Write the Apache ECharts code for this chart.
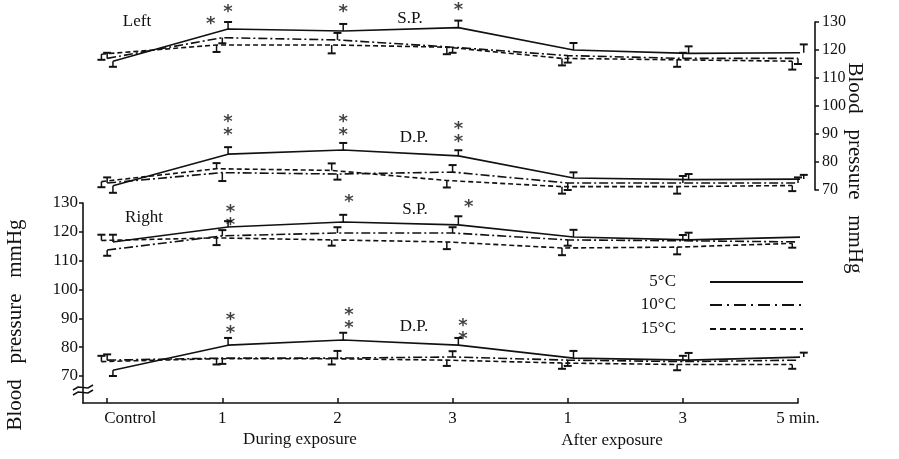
<!DOCTYPE html>
<html>
<head>
<meta charset="utf-8">
<script src="https://cdn.jsdelivr.net/npm/echarts@6/dist/echarts.min.js"></script>
<style>
  html, body { margin: 0; padding: 0; background: #fff; }
  #chart { width: 899px; height: 459px; }
</style>
</head>
<body>
<div id="chart"></div>
<script>
// categories on the time axis
const xLabels = ['Control', '1', '2', '3', '1', '3', '5 min.']
const xIndex = [0, 1, 2, 3, 4, 5, 6]
const yTicks = [70, 80, 90, 100, 110, 120, 130]

// Left side (top panel), mmHg
const leftSP5 = [116, 127.5, 126.8, 128, 120, 118.8, 119]
const leftSP10 = [117, 124.4, 123.6, 121, 118, 117, 117]
const leftSP15 = [118.5, 121.8, 121.8, 121, 117, 116.5, 116]
const leftDP5 = [71.5, 82.8, 84.3, 82.2, 74.3, 73.7, 73.9]
const leftDP10 = [72.5, 76.2, 75.7, 76.4, 72.5, 72.5, 72.5]
const leftDP15 = [73, 77.6, 77, 73.4, 71.2, 71.2, 71.6]

// Right side (bottom panel), mmHg
const rightSP5 = [116.5, 121.7, 123.4, 122.4, 118.2, 117.2, 118.2]
const rightSP10 = [113.7, 118.6, 119.6, 119.6, 117.2, 116.9, 116.5]
const rightSP15 = [117, 117.9, 117.2, 116.5, 114.4, 114.7, 116]
const rightDP5 = [72, 80.7, 82.5, 80.7, 76.2, 75.5, 76.6]
const rightDP10 = [75.5, 76.2, 76.2, 76.6, 75.5, 75, 75.5]
const rightDP15 = [75, 76, 76, 75.5, 74.5, 74, 74]

// error bars (signed: + drawn upward, - drawn downward)
const leftSP5Err = [-2, 2.5, 2.5, 2.5, 2.5, 2.5, 3]
const leftSP10Err = [2, -2, 2.5, -2, -2.5, 2, -2]
const leftSP15Err = [-2, -2.5, -3, -2.5, -2.5, -2.5, -3]
const leftDP5Err = [-2.5, 2.5, 2.5, 2, 2, 2, 1.5]
const leftDP10Err = [2, -3, -2, 2.5, -2.5, 2.5, 2]
const leftDP15Err = [-2, 2, 2.5, -2.5, -2.5, -2.5, -2]
const rightSP5Err = [2.5, 2, 2.5, 3, 2.5, 2.5, 0]
const rightSP10Err = [-2, 2, 2, 2, -2, 2, 0]
const rightSP15Err = [2, -2.5, -2, -2.5, -2.5, -2.5, -1.5]
const rightDP5Err = [-2, 2.5, 2.5, 2.5, 2.5, 2.5, 1.5]
const rightDP10Err = [2, -2, 2.5, 2, -2, 2, 0]
const rightDP15Err = [2, -2, -2, -2, -2, -2, -1.5]

// significance marks: [x, y, text]
const leftStars = [[0.9, 129, '*'], [1.05, 133.5, '*'], [2.05, 133.5, '*'], [3.05, 134, '*'],
  [1.05, 92, '*\n*'], [2.05, 92, '*\n*'], [3.05, 89.5, '*\n*']]
const rightStars = [[1.07, 124.5, '*\n*'], [2.1, 130.3, '*'], [3.14, 128.6, '*'],
  [1.07, 87, '*\n*'], [2.1, 88.7, '*\n*'], [3.09, 84.9, '*\n*']]

const INK = '#111'
const FONT = "'Liberation Serif', 'DejaVu Serif', serif"
const styles = {
  c5: { type: 'solid', dx: 0.05 },
  c10: { type: [9, 3, 2, 3], dx: 0 },
  c15: { type: [5, 3], dx: -0.05 }
}

const errBar = (params, api) => {
  const x = api.value(0), y = api.value(1), e = api.value(2)
  if (!e) return
  const p0 = api.coord([x, y])
  const p1 = api.coord([x, y + e])
  return {
    type: 'group',
    children: [
      { type: 'line', shape: { x1: p0[0], y1: p0[1], x2: p1[0], y2: p1[1] }, style: { stroke: INK, lineWidth: 1.5 } },
      { type: 'line', shape: { x1: p1[0] - 4, y1: p1[1], x2: p1[0] + 4, y2: p1[1] }, style: { stroke: INK, lineWidth: 2 } }
    ]
  }
}

const makeSeries = (values, errs, st, gi) => {
  const s = styles[st]
  return [
    {
      type: 'line',
      xAxisIndex: gi, yAxisIndex: gi,
      data: values.map((v, i) => [xIndex[i] + s.dx, v]),
      showSymbol: false,
      lineStyle: { color: INK, width: 1.6, type: s.type },
      silent: true
    },
    {
      type: 'custom',
      xAxisIndex: gi, yAxisIndex: gi,
      data: values.map((v, i) => [xIndex[i] + s.dx, v, errs[i]]),
      renderItem: errBar,
      encode: { x: 0, y: 1 },
      silent: true
    }
  ]
}

const starSeries = (data, gi) => ({
  type: 'scatter',
  xAxisIndex: gi, yAxisIndex: gi,
  data: data,
  clip: false,
  symbolSize: 1,
  itemStyle: { color: 'rgba(0,0,0,0)' },
  label: {
    show: true,
    position: 'inside',
    formatter: p => p.value[2],
    fontFamily: 'DejaVu Sans',
    fontWeight: 'bold',
    fontSize: 18,
    lineHeight: 13,
    color: INK
  },
  silent: true
})

const txt = (text, x, y, size, extra) => ({
  type: 'text', x: x, y: y, silent: true,
  style: Object.assign({ text: text, fill: INK, font: size + 'px ' + FONT, align: 'center', verticalAlign: 'middle' }, extra || {})
})

const chart = echarts.init(document.getElementById('chart'))

chart.setOption({
  animation: false,
  backgroundColor: '#fff',
  grid: [
    { left: 83, right: 101, top: 22, height: 168 },
    { left: 83, right: 101, top: 203, height: 200 }
  ],
  xAxis: [
    { type: 'value', gridIndex: 0, min: -0.21, max: 6, show: false },
    {
      type: 'value', gridIndex: 1, min: -0.21, max: 6,
      axisLine: { show: true, onZero: false, lineStyle: { color: INK, width: 1.6 } },
      axisTick: { show: true, inside: true, length: 5, customValues: xIndex, lineStyle: { color: INK, width: 1.5 } },
      splitLine: { show: false },
      axisLabel: {
        customValues: xIndex,
        margin: 7,
        color: INK,
        fontFamily: FONT,
        fontSize: 17,
        formatter: v => {
          const t = xLabels[Math.round(v)]
          return Math.round(v) === 0 ? '{c|' + t + '}' : t
        },
        rich: { c: { padding: [0, 0, 0, 46], fontFamily: FONT, fontSize: 17, color: INK } }
      }
    }
  ],
  yAxis: [
    {
      type: 'value', gridIndex: 0, position: 'right', offset: 17,
      min: 70, max: 130, interval: 10,
      axisLine: { show: true, onZero: false, lineStyle: { color: INK, width: 1.6 } },
      axisTick: { show: true, length: 4, lineStyle: { color: INK, width: 1.5 } },
      splitLine: { show: false },
      axisLabel: { margin: 7, color: INK, fontFamily: FONT, fontSize: 16 }
    },
    {
      type: 'value', gridIndex: 1, position: 'left',
      min: 60.64, max: 130,
      axisLine: { show: true, onZero: false, lineStyle: { color: INK, width: 1.6 } },
      axisTick: { show: true, length: 4, customValues: yTicks, lineStyle: { color: INK, width: 1.5 } },
      splitLine: { show: false },
      axisLabel: { customValues: yTicks, margin: 5, color: INK, fontFamily: FONT, fontSize: 17 }
    }
  ],
  series: [
    ...makeSeries(leftSP5, leftSP5Err, 'c5', 0),
    ...makeSeries(leftSP10, leftSP10Err, 'c10', 0),
    ...makeSeries(leftSP15, leftSP15Err, 'c15', 0),
    ...makeSeries(leftDP5, leftDP5Err, 'c5', 0),
    ...makeSeries(leftDP10, leftDP10Err, 'c10', 0),
    ...makeSeries(leftDP15, leftDP15Err, 'c15', 0),
    ...makeSeries(rightSP5, rightSP5Err, 'c5', 1),
    ...makeSeries(rightSP10, rightSP10Err, 'c10', 1),
    ...makeSeries(rightSP15, rightSP15Err, 'c15', 1),
    ...makeSeries(rightDP5, rightDP5Err, 'c5', 1),
    ...makeSeries(rightDP10, rightDP10Err, 'c10', 1),
    ...makeSeries(rightDP15, rightDP15Err, 'c15', 1),
    starSeries(leftStars, 0),
    starSeries(rightStars, 1)
  ],
  graphic: [
    // panel captions
    txt('Left', 137, 22, 17),
    txt('S.P.', 410, 19, 17),
    txt('D.P.', 414, 138, 17),
    txt('Right', 144, 218, 17),
    txt('S.P.', 415, 210, 17),
    txt('D.P.', 414, 327, 17),
    // axis titles
    txt('During exposure', 300, 440, 17),
    txt('After exposure', 612, 441, 17),
    Object.assign(txt('Blood   pressure   mmHg', 15, 325, 21), { rotation: Math.PI / 2 }),
    Object.assign(txt('Blood   pressure   mmHg', 855, 168, 21), { rotation: -Math.PI / 2 }),
    // legend
    txt('5°C', 676, 282, 17, { align: 'right' }),
    txt('10°C', 676, 305, 17, { align: 'right' }),
    txt('15°C', 676, 329, 17, { align: 'right' }),
    { type: 'line', silent: true, shape: { x1: 710, y1: 282, x2: 803, y2: 282 }, style: { stroke: INK, lineWidth: 1.8 } },
    { type: 'line', silent: true, shape: { x1: 710, y1: 305, x2: 803, y2: 305 }, style: { stroke: INK, lineWidth: 1.8, lineDash: [12, 5, 2, 5] } },
    { type: 'line', silent: true, shape: { x1: 710, y1: 329, x2: 803, y2: 329 }, style: { stroke: INK, lineWidth: 1.8, lineDash: [6, 4] } },
    // axis break mark
    { type: 'rect', silent: true, shape: { x: 80, y: 387, width: 6, height: 6 }, style: { fill: '#fff' } },
    { type: 'polyline', silent: true, shape: { points: [[73, 390], [78, 387], [88, 388], [93, 385]] }, style: { stroke: INK, lineWidth: 1.5, fill: null } },
    { type: 'polyline', silent: true, shape: { points: [[73, 395], [78, 392], [88, 393], [93, 390]] }, style: { stroke: INK, lineWidth: 1.5, fill: null } }
  ]
})
</script>
</body>
</html>
